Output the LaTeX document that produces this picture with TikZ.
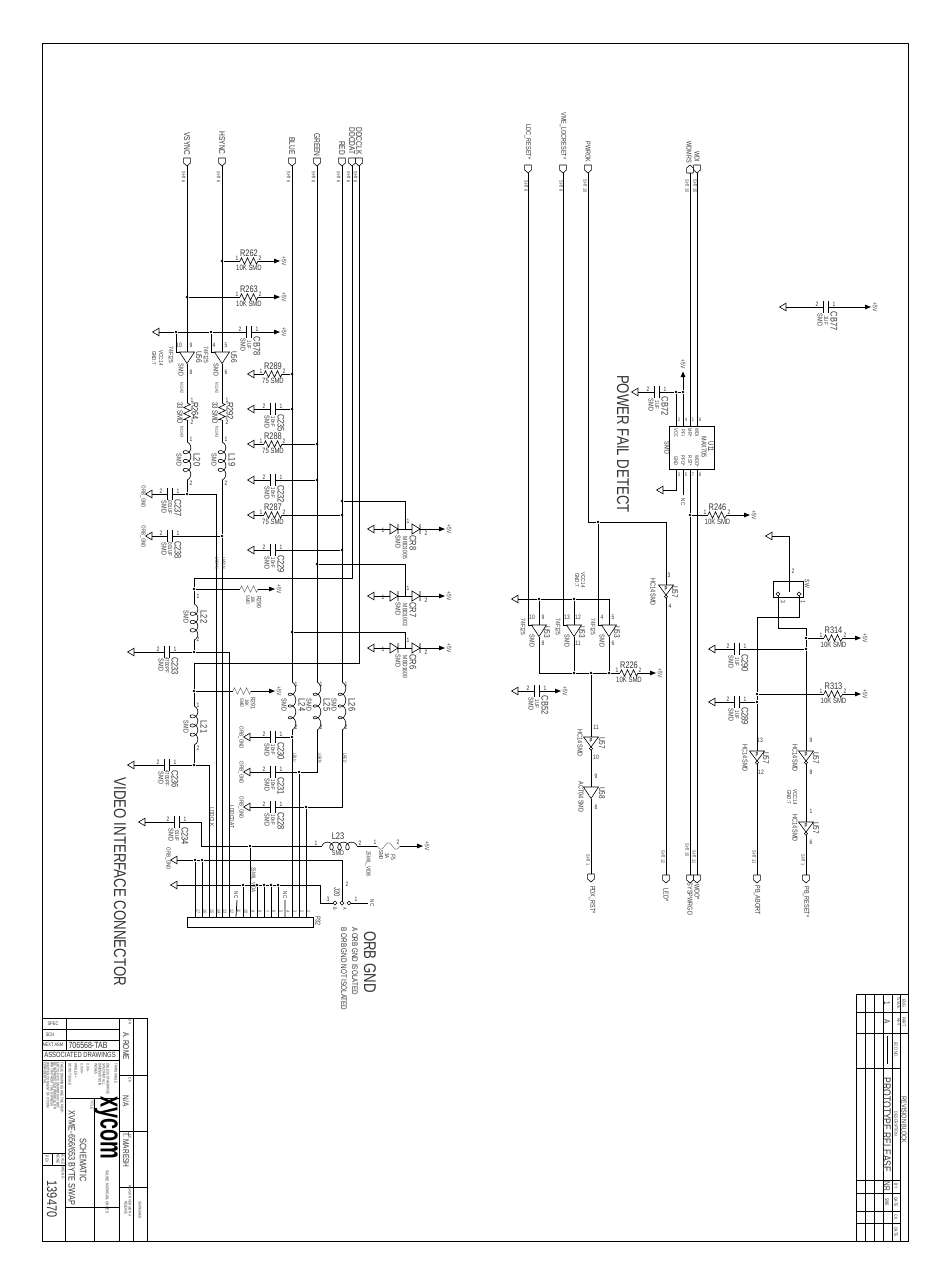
\documentclass[tikz,border=0pt]{standalone}
\usepackage{fontspec}
\newfontfamily\plotfont[FakeStretch=0.78]{Liberation Sans}
\newfontfamily\logofont[FakeStretch=0.62]{Liberation Sans}
\newcounter{tc}
\tikzset{
  w/.style={line width=0.75pt,black,line join=miter},
  part/.style={line width=0.6pt,black,line join=miter},
  thinpart/.style={line width=0.35pt,black!70},
  frame/.style={line width=0.8pt,black},
  jdot/.style={circle,fill=black,inner sep=0pt,minimum size=2.8pt},
  lab/.style={text=black!80,inner sep=0pt,font=\plotfont},
}
% sizes under 8.4 are scaled up by 1.28
\newcommand\myfsz[1]{\pgfmathsetmacro\myfs{#1<8.4?#1*1.28:#1}\fontsize{\myfs}{\myfs}\selectfont}
% rotated / horizontal text; [size] x y text
\newcommand\rtx[4][7]{\stepcounter{tc}\node[lab,rotate=-90] (t\arabic{tc}) at ({#2},{#3}) {\myfsz{#1}#4};}
\newcommand\rta[4][3.6]{\stepcounter{tc}\node[lab,rotate=-90,anchor=west] (t\arabic{tc}) at ({#2},{#3}) {\myfsz{#1}#4};}
\newcommand\htx[4][7]{\stepcounter{tc}\node[lab] (t\arabic{tc}) at ({#2},{#3}) {\myfsz{#1}#4};}
% ground: name x y
\newcommand\gnd[3]{\draw[part] (#2+3,#3-3.8) -- (#2-3.5,#3) -- (#2+3,#3+3.8) -- cycle; \coordinate (#1) at (#2+3,#3);}
% power: name x y
\newcommand\pwr[3]{\fill (#2-3,#3-2.4) -- (#2+3,#3) -- (#2-3,#3+2.4) -- cycle; \coordinate (#1) at (#2-3,#3); \rtx[5]{#2+7}{#3}{+5V}}
% junction
\newcommand\jn[3]{\node[jdot] (#1) at (#2,#3) {};}
% pin box: name x ytop
\newcommand\pinbox[3]{\draw[part] (#2-3.4,#3) -- (#2+3.4,#3) -- (#2+3.4,#3+5) -- (#2,#3+8) -- (#2-3.4,#3+5) -- cycle; \coordinate (#1-t) at (#2,#3); \coordinate (#1-b) at (#2,#3+8);}
\newcommand\pinboxup[3]{\draw[part] (#2-3.4,#3+8) -- (#2+3.4,#3+8) -- (#2+3.4,#3+3) -- (#2,#3) -- (#2-3.4,#3+3) -- cycle; \coordinate (#1-t) at (#2,#3); \coordinate (#1-b) at (#2,#3+8);}
% horizontal resistor: name x1 x2 y ref val
\newcommand\hres[6]{\draw[part] (#2,#4) -- ++(1.5,-3.2) -- ++(3,6.4) -- ++(3,-6.4) -- ++(3,6.4) -- ++(3,-6.4) -- ++(3,6.4) -- (#3,#4);
 \coordinate (#1-a) at (#2,#4); \coordinate (#1-b) at (#3,#4);
 \htx[9.5]{(#2+#3)/2}{#4-8}{#5}\htx[6]{(#2+#3)/2}{#4+7}{#6}\htx[5]{#2-3}{#4-3}{1}\htx[5]{#3+2}{#4-3}{2}}
% vertical resistor: name x y1 y2
\newcommand\vres[4]{\draw[part] (#2,#3) -- ++(3.2,1.5) -- ++(-6.4,3) -- ++(6.4,3) -- ++(-6.4,3) -- ++(6.4,3) -- ++(-6.4,3) -- (#2,#4);
 \coordinate (#1-a) at (#2,#3); \coordinate (#1-b) at (#2,#4);}
% horizontal cap: name cx y ref val
\newcommand\hcap[5]{\draw[part] (#2-2.5,#3-6) -- (#2-2.5,#3+6) (#2+2.5,#3-6) -- (#2+2.5,#3+6);
 \coordinate (#1-a) at (#2-2.5,#3); \coordinate (#1-b) at (#2+2.5,#3);
 \rtx[7.5]{#2+8}{#3+14}{#4}\rtx[4.5]{#2}{#3+13}{#5}\rtx[5.5]{#2-6}{#3+13}{SMD}\htx[5]{#2+8}{#3-3}{1}\htx[5]{#2-9}{#3-3}{2}}
% vertical inductor (loops): name x y1 y2
\newcommand\lv[4]{\draw[part,smooth] plot[domain=0.25:3.75,samples=90,variable=\t]
  ({#2-3.8*cos(360*\t)},{#3+3.5+((#4-#3-7)/(3.5))*(\t-0.25)-3.5*sin(360*\t)});
 \coordinate (#1-a) at (#2,#3); \coordinate (#1-b) at (#2,#4);}
% horizontal inductor
\newcommand\lh[4]{\draw[part,smooth] plot[domain=0.25:3.75,samples=90,variable=\t]
  ({#2+3.5+((#3-#2-7)/(3.5))*(\t-0.25)-3.5*sin(360*\t)},{#4+3.8*cos(360*\t)});
 \coordinate (#1-a) at (#2,#4); \coordinate (#1-b) at (#3,#4);}
% diode: name x1 x2 y
\newcommand\diode[4]{\draw[part] (#2,#4-5) -- (#3,#4) -- (#2,#4+5) -- cycle (#3,#4-5) -- (#3,#4+5);
 \coordinate (#1-a) at (#2,#4); \coordinate (#1-b) at (#3,#4);}
% buffer: name x ytop
\newcommand\bufd[3]{\draw[part] (#2-7.5,#3) -- (#2+7.5,#3) -- (#2,#3+11.5) -- cycle;
 \coordinate (#1-t) at (#2,#3); \coordinate (#1-l) at (#2-7.5,#3); \coordinate (#1-b) at (#2,#3+11.5);}
\newcommand\bufp[3]{\draw[part] (#2-7.5,#3) -- (#2+7.5,#3) -- (#2,#3+10) -- cycle;
 \draw[part] (#2,#3+10) -- (#2+1.6,#3+11.6) -- (#2,#3+13.2) -- (#2-1.6,#3+11.6) -- cycle;
 \htx[4.5]{#2}{#3+4}{\textbf{p}}
 \coordinate (#1-t) at (#2,#3); \coordinate (#1-b) at (#2,#3+13.2);}
\newcommand\dmd[2]{\draw[part] (#1,#2-2) -- (#1+2,#2) -- (#1,#2+2) -- (#1-2,#2) -- cycle;}
\begin{document}
\begin{tikzpicture}[x=1pt,y=-1pt]
\useasboundingbox (0,0) rectangle (950,1284);
\fill[white] (0,0) rectangle (950,1284);
% ===== sheet frame
\node[draw,frame,inner sep=0,minimum width=866pt,minimum height=1198pt] (sheet) at (475,642) {};
% ===== off-page connectors, video side
\foreach \n/\x/\l/\ly in {pv/187/VSYNC/144,ph/222/HSYNC/143,pb/292/BLUE/146,pg/317/GREEN/145,pr/342/RED/148,pd/352/DDCDAT/141,pc/359/DDCCLK/141}{
  \pinbox{\n}{\x}{158}\rtx[8.5]{\x}{\ly}{\l}\rtx[3.8]{\x-3.5}{177}{SHT 6}}
% ---- R262, R263, CB78
\jn{j262}{222}{261}\hres{r262}{240}{258}{261}{R262}{10K SMD}\pwr{v262}{277}{261}
\draw[w] (j262) -- (r262-a) (r262-b) -- (v262);
\jn{j263}{187}{297}\hres{r263}{240}{258}{297}{R263}{10K SMD}\pwr{v263}{277}{297}
\draw[w] (j263) -- (r263-a) (r263-b) -- (v263);
\gnd{g78}{156}{332}\hcap{cb78}{249}{332}{CB78}{1UF}\pwr{v78}{277}{332}
\jn{j78a}{176}{332}\jn{j78b}{211}{332}
\draw[w] (g78) -- (j78a) -- (j78b) -- (cb78-a) (cb78-b) -- (v78);
% ---- U56 buffers
\bufd{u56a}{187}{352}\bufd{u56b}{222}{352}
\draw[w] (pv-b) -- (u56a-t) (ph-b) -- (u56b-t);
\draw[w] (j78a) |- (u56a-l) (j78b) |- (u56b-l);
\foreach \dx/\u/\a/\b/\c in {0/U56/10/9/8,35/U56/4/5/6}{
  \htx[5]{179+\dx}{345}{\a}\htx[5]{191+\dx}{345}{\b}\htx[5]{191+\dx}{372}{\c}
  \rtx[6.5]{199+\dx}{357}{\u}\rtx[5.5]{181+\dx}{370}{SMD}\rtx[5]{171+\dx}{355}{74F125}
  \rtx[3.5]{182+\dx}{388}{N1142}\rtx[3.5]{182+\dx}{432}{N1143}}
\rtx[4.5]{161}{358}{VCC:14}\rtx[4.5]{154}{358}{GND:7}
% ---- R264, R292, L20, L19
\vres{r264}{187}{403}{420}\vres{r292}{222}{403}{420}
\lv{l20}{187}{442}{480}\lv{l19}{222}{442}{480}
\draw[w] (u56a-b) -- (r264-a) (r264-b) -- (l20-a) (u56b-b) -- (r292-a) (r292-b) -- (l19-a);
\rtx[7.5]{195}{411}{R264}\rtx[6]{180}{413}{33 SMD}\htx[5]{192}{400}{1}\htx[5]{192}{422}{2}
\rtx[7.5]{230}{411}{R292}\rtx[6]{215}{413}{33 SMD}\htx[5]{227}{400}{1}\htx[5]{227}{422}{2}
\rtx[7.5]{197}{460}{L20}\rtx[5.5]{179}{460}{SMD}\htx[5]{191}{439}{1}\htx[5]{191}{483}{2}
\rtx[7.5]{232}{460}{L19}\rtx[5.5]{214}{460}{SMD}\htx[5]{226}{439}{1}\htx[5]{226}{483}{2}
% ---- C237 / C238
\gnd{g237}{149}{494}\hcap{c237}{170}{494}{C237}{.001UF}\jn{j237}{187}{494}
\gnd{g238}{149}{536}\hcap{c238}{170}{536}{C238}{.001UF}\jn{j238}{222}{536}
\rtx[4.5]{143}{497}{ORB\_GND}\rtx[4.5]{143}{537}{ORB\_GND}
\coordinate (e237) at (216,494);
\draw[w] (g237) -- (c237-a) (c237-b) -- (j237) -- (e237) (l20-b) -- (j237);
\draw[w] (g238) -- (c238-a) (c238-b) -- (j238) (l19-b) -- (j238);
% ---- R/C terminations on RGB
\jn{j289}{292}{374}\gnd{g289}{251}{374}\hres{r289}{264}{282}{374}{R289}{75 SMD}
\draw[w] (g289) -- (r289-a) (r289-b) -- (j289);
\jn{j235}{292}{409}\gnd{g235}{251}{409}\hcap{c235}{273}{409}{C235}{10nF}
\draw[w] (g235) -- (c235-a) (c235-b) -- (j235);
\jn{j288}{317}{444}\gnd{g288}{251}{444}\hres{r288}{264}{282}{444}{R288}{75 SMD}
\draw[w] (g288) -- (r288-a) (r288-b) -- (j288);
\jn{j232}{317}{480}\gnd{g232}{251}{480}\hcap{c232}{273}{480}{C232}{10nF}
\draw[w] (g232) -- (c232-a) (c232-b) -- (j232);
\jn{j287}{342}{515}\gnd{g287}{251}{515}\hres{r287}{264}{282}{515}{R287}{75 SMD}
\draw[w] (g287) -- (r287-a) (r287-b) -- (j287);
\jn{j229}{342}{550}\gnd{g229}{251}{550}\hcap{c229}{273}{550}{C229}{10nF}
\draw[w] (g229) -- (c229-a) (c229-b) -- (j229);
% ---- diodes
\foreach \n/\y/\ty/\s/\ny/\mt in {cr8/529/501/CR8/529/MBD1005,cr7/596/564/CR7/596/MBD1003,cr6/648/632/CR6/648/MBD1600}{
  \gnd{g\n}{371}{\y}\diode{d\n a}{390}{398}{\y}\diode{d\n b}{412}{420}{\y}\pwr{v\n}{442}{\y}
  \coordinate (m\n) at (405,\y);
  \draw[w] (g\n) -- (d\n a-a) (d\n a-b) -- (d\n b-a) (d\n b-b) -- (v\n);
  \rtx[7.5]{413}{\y+14}{\s}\rtx[5]{405}{\y+19}{\mt}\rtx[5.5]{398}{\y+13}{SMD}
  \htx[5]{383}{\y+1}{1}\htx[5]{426}{\y+4}{2}\htx[5]{408}{\y-8}{1}}
\jn{jr}{342}{501}\jn{jg}{317}{564}\jn{jb}{292}{632}
\draw[w] (jr) -| (mcr8) (jg) -| (mcr7) (jb) -| (mcr6);
% ---- L21, L22 and their nets
\coordinate (ecd) at (359,663);\coordinate (edd) at (352,578);
\coordinate (t22) at (194,578);\coordinate (t21) at (194,663);
\jn{j290}{194}{589}\jn{j201}{194}{691}
\lv{l22}{194}{604}{640}\lv{l21}{194}{706}{745}
\jn{j233}{194}{652}\jn{j236}{194}{765}
\draw[w] (pc-b) -- (ecd) -- (t21) -- (j201) -- (l21-a) (l21-b) -- (j236);
\draw[w] (pd-b) -- (edd) -- (t22) -- (j290) -- (l22-a) (l22-b) -- (j233);
\draw[thinpart] (240,589) -- ++(1.5,-3.2) -- ++(3,6.4) -- ++(3,-6.4) -- ++(3,6.4) -- ++(3,-6.4) -- ++(3,6.4) -- (258,589);
\draw[thinpart] (233,691) -- ++(1.5,-3.2) -- ++(3,6.4) -- ++(3,-6.4) -- ++(3,6.4) -- ++(3,-6.4) -- ++(3,6.4) -- (251,691);
\coordinate (a290) at (240,589);\coordinate (b290) at (258,589);\coordinate (a201) at (233,691);\coordinate (b201) at (251,691);
\pwr{v290}{272}{589}\pwr{v201}{272}{691}
\draw[w] (j290) -- (a290) (b290) -- (v290) (j201) -- (a201) (b201) -- (v201);
\rtx[5]{259}{602}{R290}\rtx[4]{253}{600}{10K}\rtx[4]{248}{600}{SMD}
\rtx[5]{253}{703}{R291}\rtx[4]{247}{703}{10K}\rtx[4]{242}{703}{SMD}
\rtx[7.5]{204}{617}{L22}\rtx[5.5]{186}{617}{SMD}\htx[5]{198}{596}{1}\htx[5]{198}{639}{2}
\rtx[7.5]{204}{727}{L21}\rtx[5.5]{186}{727}{SMD}\htx[5]{198}{705}{1}\htx[5]{198}{748}{2}
\gnd{g233}{131}{652}\hcap{c233}{167}{652}{C233}{4700PF}
\gnd{g236}{131}{765}\hcap{c236}{167}{765}{C236}{4700PF}
\draw[w] (g233) -- (c233-a) (c233-b) -- (j233) (g236) -- (c236-a) (c236-b) -- (j236);
% ---- L24/25/26
\lv{l24}{292}{682}{730}\lv{l25}{317}{682}{730}\lv{l26}{342}{682}{730}
\draw[w] (pb-b) -- (l24-a) (pg-b) -- (l25-a) (pr-b) -- (l26-a);
\foreach \x/\n in {292/L24,317/L25,342/L26}{
 \rtx[7.5]{\x+10}{705}{\n}\rtx[5.5]{\x-8}{705}{SMD}\htx[5]{\x+4}{684}{1}\htx[5]{\x+4}{727}{2}}
\rtx[3.5]{295}{758}{LBLU}\rtx[3.5]{320}{758}{LGRN}\rtx[3.5]{345}{758}{LRED}
\gnd{g230}{247}{737}\hcap{c230}{273}{737}{C230}{10nF}\jn{j230}{292}{737}
\gnd{g231}{247}{772}\hcap{c231}{273}{772}{C231}{10nF}\jn{j231}{299}{772}
\gnd{g228}{247}{807}\hcap{c228}{273}{807}{C228}{10nF}\jn{j228}{306}{807}
\rtx[4.5]{241}{738}{ORB\_GND}\rtx[4.5]{241}{773}{ORB\_GND}\rtx[4.5]{241}{808}{ORB\_GND}
\coordinate (c25) at (317,772);\coordinate (c26) at (342,807);
\draw[w] (g230) -- (c230-a) (c230-b) -- (j230);
\draw[w] (g231) -- (c231-a) (c231-b) -- (j231) -- (c25) -- (l25-b);
\draw[w] (g228) -- (c228-a) (c228-b) -- (j228) -- (c26) -- (l26-b);
% ---- connector P32
\node[draw,part,inner sep=0,minimum width=126pt,minimum height=10pt] (P32) at (250,922) {};
\rtx[5.5]{318}{921}{P32}
\foreach \n/\x in {17/195,16/202,15/209,14/216,13/222,12/229,11/236,10/243,9/250,8/257,7/264,6/271,5/278,4/285,3/292,2/299,1/306}{
  \coordinate (p\n) at (\x,917); \rtx[3.6]{\x+3}{911}{\n}}
% signals into connector
\draw[w] (l24-b) -- (j230) -- (p3) (j231) -- (p2) (j228) -- (p1);
\coordinate (c15) at (209,765);\coordinate (c12) at (229,652);
\draw[w] (j236) -- (c15) -- (p15) (j233) -- (c12) -- (p12);
\draw[w] (e237) -- (p14) (j238) -- (p13);
\rtx[4.8]{212}{817}{LDDCLK}\rtx[4.8]{232}{817}{LDDCDAT}\rtx[3.5]{217}{563}{LVSYN}\rtx[3.5]{224}{563}{LHSYN}
% ---- L23 and fuse
\coordinate (c234t) at (201,822);\coordinate (c234b) at (201,846);
\gnd{g234}{142}{822}\hcap{c234}{177}{822}{C234}{.01UF}
\lh{l23}{322}{357}{846}
\jn{j9}{250}{846}
\draw[w] (g234) -- (c234-a) (c234-b) -- (c234t) -- (c234b) -- (j9) -- (l23-a) (j9) -- (p9);
\draw[thinpart] plot[domain=0:1,samples=30,variable=\t] ({377+23*\t},{846+3.2*sin(540*\t)});
\coordinate (f5a) at (377,846);\coordinate (f5b) at (400,846);
\pwr{vf5}{420}{846}
\draw[w] (l23-b) -- (f5a) (f5b) -- (vf5);
\htx[7.5]{338}{836}{L23}\htx[5.5]{338}{853}{SMD}\htx[5]{316}{843}{1}\htx[5]{360}{843}{2}
\htx[5]{375}{842}{1}\htx[5]{398}{842}{2}
\rtx[5]{393}{857}{F5}\rtx[4.5]{387}{856}{3A}\rtx[4.5]{381}{855}{SMD}\rtx[4.5]{368}{864}{25MIL\_VIDB}\rtx[4.5]{253}{880}{25MIL\_VIDA}
% ---- ground rows and J20
\gnd{gt}{174}{860}\gnd{gu}{174}{885}
\rtx[4.5]{168}{859}{ORB\_GND}
\jn{j17}{195}{860}\jn{j16}{202}{860}
\jn{j10}{243}{885}\jn{j8}{257}{885}\jn{j7}{264}{885}\jn{j6}{271}{885}\jn{j5}{278}{885}
\coordinate (k1) at (342,860);\coordinate (k2) at (320,885);
\dmd{335}{903}\dmd{342}{903}\dmd{349}{903}
\coordinate (ja) at (333,903);\coordinate (jb) at (342,901);\coordinate (jc) at (351,903);
\draw[w] (gt) -- (j17) -- (j16) -- (k1) -- (jb);
\draw[w] (gu) -- (j10) -- (j8) -- (j7) -- (j6) -- (j5) -- (k2) |- (ja);
\foreach \a/\b in {j17/p17,j16/p16,j10/p10,j8/p8,j7/p7,j6/p6,j5/p5}{\draw[w] (\a) -- (\b);}
\coordinate (nc11) at (237,900);\coordinate (nc4) at (285,900);
\draw[w] (nc11) -- (p11) (nc4) -- (p4);
\rtx[4.5]{236}{895}{NC}\rtx[4.5]{285}{895}{NC}
\coordinate (jncr) at (368,903);
\draw[w] (jc) -- (jncr);
\rtx[4.5]{372}{903}{NC}
\rtx[6]{337}{892}{J20}\htx[5]{347}{884}{2}\htx[5]{328}{899}{3}\htx[5]{356}{899}{1}\rtx[4]{335}{909}{B}\rtx[4]{345}{909}{A}
% ---- big texts
\rtx[17]{120}{882}{VIDEO INTERFACE CONNECTOR}
\rtx[17]{370}{962}{ORB GND}
\rtx[6.3]{355}{961}{A  ORB GND ISOLATED}
\rtx[6.3]{344}{969}{B  ORB GND NOT ISOLATED}
\rtx[17]{623}{444}{POWER FAIL DETECT}
% ===== right half, top connectors
\foreach \n/\x/\l/\ly/\s/\sx in {pl/528/LDC\_RESET*/142/SHT 8/526,pm/563/VME\_LOCRESET*/136/SHT 8/561,pp/588/PWROK/152/SHT 10/585,pi/697/WDI/157/SHT 15/695}{
  \pinbox{\n}{\x}{165}\rtx[5.5]{\x}{\ly}{\l}\rtx[3.8]{\sx}{186}{\s}}
\pinboxup{pw}{690}{165}\rtx[5.5]{689}{152}{WDMRS}\rtx[3.8]{687}{186}{SHT 15}
% ---- CB77
\gnd{g77}{783}{307}\hcap{cb77}{826}{307}{CB77}{.1UF}\pwr{v77}{868}{307}
\draw[w] (g77) -- (cb77-a) (cb77-b) -- (v77);
% ---- U11 MAX705
\node[draw,part,inner sep=0,minimum width=45pt,minimum height=43pt] (u11) at (691.5,447.5) {};
\rtx[6]{711}{447}{U11}\rtx[5.5]{704}{447}{MAX705}\rtx[5.5]{667}{448}{SMD}
\foreach \x/\u/\b in {697/WDI/WDO*,690/MR*/RST*,683/PFI/PFO*,676/VCC/GND}{\rtx[4.2]{\x}{433}{\u}\rtx[4.2]{\x}{461}{\b}}
\foreach \x/\a/\b in {700/6/8,693/1/7,686/4/5,679/2/3}{\htx[4]{\x}{420}{\a}\htx[4]{\x}{475}{\b}}
\foreach \x/\n in {676/a,683/b,690/c,697/d}{\coordinate (ut\n) at (\x,426);\coordinate (ub\n) at (\x,469);}
\jn{j72a}{676}{392}\jn{j72b}{683}{392}
\gnd{g72}{635}{392}\hcap{cb72}{657}{392}{CB72}{1UF}
\fill (683,371.5) -- (685.4,377) -- (680.6,377) -- cycle;
\rtx[5]{683}{364}{+5V}
\coordinate (a72) at (683,377);
\draw[w] (g72) -- (cb72-a) (cb72-b) -- (j72a) -- (j72b) (a72) -- (j72b) -- (utb) (j72a) -- (uta);
\draw[w] (pi-b) -- (utd) (pw-b) -- (utc);
\coordinate (g11c) at (676,490);\gnd{g11}{660}{490}
\draw[w] (uba) -- (g11c) -- (g11);
\coordinate (nc11b) at (683,495);\draw[w] (ubb) -- (nc11b);\rtx[4.5]{683}{502}{NC}
\jn{j246}{690}{515}\hres{r246}{708}{727}{515}{R246}{10K SMD}\pwr{v246}{747}{515}
\draw[w] (j246) -- (r246-a) (r246-b) -- (v246);
\pinbox{po1}{690}{875}\pinbox{po2}{697}{875}
\draw[w] (ubc) -- (j246) -- (po1-t) (ubd) -- (po2-t);
\rtx[5.5]{690}{899}{SYSPWRGD}\rtx[5.5]{697}{892}{WDO*}\rtx[3.8]{687}{850}{SHT 15}\rtx[3.8]{694}{857}{SHT 11}
% ---- PWROK branch
\jn{jp}{598}{522}\coordinate (kp1) at (588,522);\coordinate (kp2) at (666,522);
\bufp{u57a}{666}{585}\pinbox{pled}{666}{875}
\draw[w] (pp-b) -- (kp1) -- (jp) -- (kp2) -- (u57a-t) (u57a-b) -- (pled-t);
\rtx[6.5]{675}{592}{U57}\rtx[5.5]{653}{592}{HC14 SMD}\htx[5]{669}{575}{3}\htx[5]{670}{606}{4}
\rtx[5.5]{666}{895}{LED*}\rtx[3.8]{663}{857}{SHT 12}
% ---- U53 group
\gnd{g53}{515}{599}\jn{j53a}{539}{599}\jn{j53b}{574}{599}\coordinate (e53) at (609,599);
\draw[w] (g53) -- (j53a) -- (j53b) -- (e53);
\bufd{u53a}{539}{625}\bufd{u53b}{574}{625}\bufd{u53c}{609}{625}
\draw[w] (j53a) -- (u53a-t) (j53b) -- (u53b-t) (e53) -- (u53c-t);
\draw[w] (pl-b) |- (u53a-l) (pm-b) |- (u53b-l) (jp) |- (u53c-l);
\jn{jo2}{574}{673}\jn{jo3}{591}{673}\jn{jo4}{609}{673}
\coordinate (kr) at (539,673);
\hres{r226}{620}{638}{673}{R226}{10K SMD}\pwr{v226}{653}{673}
\draw[w] (u53a-b) -- (kr) -- (jo2) -- (jo3) -- (jo4) -- (r226-a) (r226-b) -- (v226) (u53b-b) -- (jo2) (u53c-b) -- (jo4);
\foreach \dx/\a/\b/\c in {0/10/9/8,35/13/12/11,70/4/5/6}{
  \rtx[6.5]{547+\dx}{632}{U53}\rtx[5]{523+\dx}{627}{74F125}\rtx[5.5]{532+\dx}{641}{SMD}
  \htx[5]{532+\dx}{617}{\a}\htx[5]{543+\dx}{617}{\b}\htx[5]{543+\dx}{643}{\c}}
\rtx[4.5]{583}{580}{VCC:14}\rtx[4.5]{577}{580}{GND:7}
\gnd{g52}{515}{691}\hcap{cb52}{537}{691}{CB52}{1UF}\pwr{v52}{558}{691}
\draw[w] (g52) -- (cb52-a) (cb52-b) -- (v52);
% ---- U57 / U58 chain
\bufp{u57b}{591}{737}\bufd{u58}{591}{787}\pinbox{prst}{591}{874}
\draw[w] (jo3) -- (u57b-t) (u57b-b) -- (u58-t) (u58-b) -- (prst-t);
\rtx[6.5]{602}{743}{U57}\rtx[5.5]{580}{743}{HC14 SMD}\htx[5]{596}{727}{11}\htx[5]{596}{757}{10}
\rtx[6.5]{602}{793}{U58}\rtx[5.5]{581}{797}{ACT04 SMD}\htx[5]{596}{776}{9}\htx[5]{596}{807}{8}
\rtx[5.5]{592}{900}{PDX\_RST*}\rtx[3.8]{588}{860}{SHT 1}
% ---- switch block
\node[draw,part,inner sep=0,minimum width=30pt,minimum height=16pt] (sw) at (788,589) {};
\gnd{gsw}{769}{536}\coordinate (ks) at (789,536);\coordinate (ksb) at (789,592);
\draw[w] (gsw) -- (ks) -- (ksb);
\dmd{778}{594}\dmd{799}{594}
\coordinate (sa) at (778,596);\coordinate (sb) at (799,596);
\coordinate (sb1) at (799,617);\coordinate (sb2) at (757,617);\coordinate (sa1) at (778,628);\coordinate (sa2) at (806,628);
\jn{j314}{806}{638}\jn{j290r}{806}{649}\jn{j313}{757}{694}\jn{j289r}{757}{702}
\hres{r314}{824}{843}{638}{R314}{10K SMD}\pwr{v314}{858}{638}
\hres{r313}{824}{843}{694}{R313}{10K SMD}\pwr{v313}{858}{694}
\gnd{g290}{712}{649}\hcap{c290}{737}{649}{C290}{1UF}
\gnd{g289}{712}{702}\hcap{c289}{737}{702}{C289}{1UF}
\bufp{u57c}{757}{751}\bufp{u57d}{806}{751}\bufp{u57e}{806}{822}
\pinbox{pab}{757}{875}\pinbox{prs}{806}{875}
\draw[w] (sb) -- (sb1) -- (sb2) -- (j313) -- (j289r) -- (u57c-t) (u57c-b) -- (pab-t);
\draw[w] (sa) -- (sa1) -- (sa2) -- (j314) -- (j290r) -- (u57d-t) (u57d-b) -- (u57e-t) (u57e-b) -- (prs-t);
\draw[w] (j314) -- (r314-a) (r314-b) -- (v314) (j313) -- (r313-a) (r313-b) -- (v313);
\draw[w] (g290) -- (c290-a) (c290-b) -- (j290r) (g289) -- (c289-a) (c289-b) -- (j289r);
\rtx[5]{807}{584}{SW}\htx[5]{793}{571}{2}\rtx[5]{783}{602}{3}\rtx[5]{803}{602}{1}
\rtx[6.5]{766}{758}{U57}\rtx[5.5]{745}{758}{HC14 SMD}\htx[5]{760}{740}{13}\htx[5]{761}{772}{12}
\rtx[6.5]{816}{758}{U57}\rtx[5.5]{795}{758}{HC14 SMD}\htx[5]{811}{740}{9}\htx[5]{811}{772}{8}
\rtx[6.5]{816}{828}{U57}\rtx[5.5]{795}{828}{HC14 SMD}\htx[5]{811}{811}{1}\htx[5]{811}{842}{6}
\rtx[4.5]{795}{797}{VCC:14}\rtx[4.5]{789}{797}{GND:7}
\rtx[5.5]{757}{900}{PB\_ABORT}\rtx[5.5]{806}{902}{PB\_RESET*}
\rtx[3.8]{754}{857}{SHT 11}\rtx[3.8]{803}{860}{SHT 1}
% ===== revision block
\draw[frame] (856,994) -- (908,994) (856,994) -- (856,1241);
\foreach \x in {865,874,883,892}{\draw[frame] (\x,994) -- (\x,1241);}
\draw[frame] (900,994) -- (900,1241);
\foreach \y in {1012,1033}{\draw[frame] (856,\y) -- (908,\y);}
\foreach \y in {1068,1180,1193,1211,1223}{\draw[frame] (856,\y) -- (900,\y);}
\rtx[5.5]{904}{1120}{REVISION BLOCK}
\rtx[3.6]{904}{1003}{ENG}\rtx[3.6]{899}{1003}{ISSUE}
\rtx[3.6]{904}{1022}{PART}\rtx[3.6]{899}{1022}{REV}
\rtx[3.6]{896}{1050}{ECO NO.}\rtx[3.6]{896}{1124}{DESCRIPTION}
\rtx[3.6]{896}{1186}{BY}\rtx[3.6]{896}{1202}{DATE}\rtx[3.6]{896}{1217}{CK}\rtx[3.6]{896}{1232}{DATE}
\rtx[8.4]{887}{1003}{1}\rtx[8.4]{887}{1022}{A}\draw[frame] (887,1036) -- (887,1064);
\rtx[11]{887}{1125}{PROTOTYPE RELEASE}\rtx[8.4]{887}{1186}{NR}\rtx[4]{887}{1202}{5/90}
% ===== title block
\foreach \y in {1018,1029,1040,1050,1060}{\draw[frame] (42,\y) -- (119,\y);}
\draw[frame] (66,1018) -- (66,1050);
\draw[frame] (119,1018) -- (119,1241) (133,1018) -- (133,1241) (147,1018) -- (147,1241) (42,1018) -- (147,1018);
\foreach \y in {1075,1131,1187}{\draw[frame] (119,\y) -- (147,\y);}
\draw[frame] (65,1060) -- (65,1241) (94,1098) -- (94,1241) (65,1098) -- (119,1098);
\draw[frame] (65,1207) -- (119,1207);
\draw[frame] (42,1153) -- (65,1153) (42,1165) -- (65,1165) (52,1153) -- (52,1165);
\htx[4]{53}{1024}{SPEC}\htx[4]{50}{1035}{SCH}\htx[4]{53}{1045}{NEXT ASM}
\htx[9]{88}{1045}{706568-TAB}\htx[5.9]{80}{1055}{ASSOCIATED DRAWINGS}
\foreach \x/\s in {62/THESE DRAWINGS ARE THE PROP-,58/ERTY OF XYCOM AND MAY NOT,55/BE REPRODUCED IN WHOLE OR,52/PART WITHOUT THE EXPRESS,48/WRITTEN CONSENT OF XYCOM,45/CONFIDENTIAL}{\rta[3]{\x}{1062}{\s}}
\foreach \x/\s in {88/X.XX +/- .01,82/X.XXX +/- .005,76/ANGLES +/- 1,70/DO NOT SCALE}{\rta[3]{\x}{1063}{\s}}
\foreach \x/\s in {116/THIRD ANGLE,108/UNLESS OTHERWISE,104/SPECIFIED ALL,100/DIMENSIONS IN,96/INCHES}{\rta[3]{\x}{1063}{\s}}
\stepcounter{tc}\node[inner sep=0,rotate=-90,text=black] (t\arabic{tc}) at (106,1128) {\logofont\bfseries\fontsize{32}{32}\selectfont xycom};
\rtx[9.4]{83}{1160}{SCHEMATIC}\rtx[9.4]{72}{1158}{XVME-656/653 BYTE SWAP}
\rtx[14]{52}{1199}{139470}\rtx[3.2]{63}{1172}{DWG NO}\rtx[3.2]{63}{1159}{SCALE}\rtx[3.2]{58}{1159}{NONE}\rtx[3.2]{47}{1159}{REV}
\rtx[3.2]{107}{1192}{SALINE, MICHIGAN, UNITED}\rtx[3.2]{92}{1105}{TITLE}
\rtx[8.4]{126}{1046}{A. ROME}\rtx[8.4]{126}{1101}{N/A}\rtx[8.4]{126}{1150}{T. MARESH}
\rtx[3]{130}{1208}{VERSION A}\rtx[3]{126}{1208}{RELEASE}\rtx[3]{140}{1210}{SEAN/SHED}
\rtx[3]{130}{1022}{DR}\rtx[3]{130}{1080}{CK}\rtx[3]{130}{1136}{EE}\rtx[3]{130}{1192}{REASON}
\end{tikzpicture}
\end{document}
